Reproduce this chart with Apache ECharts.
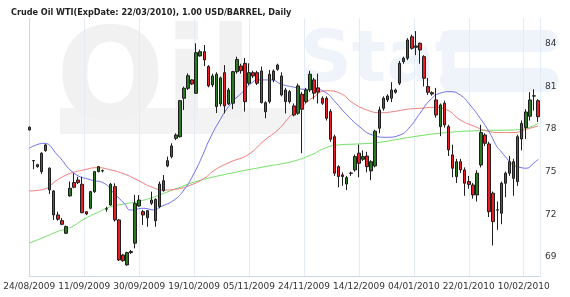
<!DOCTYPE html>
<html>
<head>
<meta charset="utf-8">
<script src="https://cdn.jsdelivr.net/npm/echarts@6/dist/echarts.min.js"></script>
<style>
html, body { margin: 0; padding: 0; background: #fff; }
#main { width: 570px; height: 297px; }
</style>
</head>
<body>
<div id="main"></div>
<script>
// 日期刻度标签（每 13.5 根K线一个）
var dateLabels = ['24/08/2009', '11/09/2009', '30/09/2009', '19/10/2009', '05/11/2009',
	'24/11/2009', '14/12/2009', '04/01/2010', '22/01/2010', '10/02/2010'];

// 开盘 / 收盘 / 最低 / 最高
var openP = [78.13, 75.78, 75.35, 75.00, 76.88, 75.24, 73.64, 71.95, 71.55, 70.66,
	73.29, 74.23, 74.41, 74.11, 72.18, 72.42, 73.59, 75.00, 75.05, 72.38,
	72.65, 73.94, 71.60, 69.13, 68.43, 69.37, 69.96, 72.58, 72.18, 71.75,
	73.00, 73.05, 72.53, 73.66, 75.40, 76.06, 77.35, 77.46, 80.17, 80.87,
	81.46, 80.52, 83.15, 83.45, 82.40, 81.11, 79.58, 79.77, 81.97, 79.77,
	79.82, 82.04, 82.44, 82.63, 81.23, 81.97, 81.97, 82.09, 79.86, 79.93,
	81.46, 82.51, 81.74, 80.75, 80.63, 79.63, 79.11, 80.45, 79.93, 80.75,
	81.46, 80.90, 80.17, 80.17, 79.23, 77.46, 75.35, 74.77, 74.13, 74.90,
	75.12, 76.30, 75.87, 76.10, 75.05, 75.40, 78.06, 79.46, 80.05, 80.17,
	80.75, 81.23, 82.75, 82.99, 84.50, 83.76, 84.04, 83.10, 80.99, 80.56,
	80.05, 78.17, 79.82, 78.17, 76.18, 74.65, 75.70, 75.12, 74.30, 74.06,
	73.36, 75.47, 77.58, 76.95, 73.48, 72.31, 72.07, 74.18, 74.89, 75.70,
	74.30, 77.30, 78.10, 78.90, 80.34, 80.00];
var closeP = [77.94, 75.76, 75.49, 76.30, 76.48, 73.71, 71.95, 71.65, 71.29, 71.13,
	73.83, 73.90, 74.23, 72.11, 72.02, 73.59, 75.00, 75.35, 75.07, 72.36,
	74.11, 71.60, 68.78, 68.73, 69.30, 69.30, 72.77, 73.00, 71.95, 72.25,
	72.77, 71.54, 74.13, 74.36, 75.77, 76.81, 77.58, 80.00, 80.87, 81.76,
	81.18, 83.38, 83.45, 82.87, 81.04, 81.74, 81.86, 81.60, 79.63, 80.75,
	82.04, 82.90, 82.11, 79.93, 81.97, 81.74, 81.23, 79.86, 79.22, 81.86,
	82.09, 82.21, 80.40, 79.93, 79.93, 78.99, 81.04, 79.39, 80.75, 81.86,
	80.52, 80.60, 79.82, 78.76, 77.28, 74.89, 74.65, 74.65, 74.58, 74.88,
	76.06, 75.59, 76.06, 75.35, 75.70, 77.85, 79.35, 80.17, 80.33, 80.75,
	80.59, 82.63, 82.99, 84.27, 83.69, 83.85, 83.57, 81.58, 80.59, 80.47,
	78.99, 79.70, 78.29, 76.53, 75.24, 75.70, 75.12, 74.18, 74.10, 73.36,
	74.89, 77.75, 77.00, 72.18, 71.48, 72.29, 74.18, 74.89, 75.70, 74.53,
	77.46, 78.40, 79.20, 80.05, 80.32, 78.87];
var lowP = [77.90, 75.17, 75.28, 74.84, 76.40, 73.43, 71.60, 71.55, 71.23, 70.60,
	73.24, 73.83, 74.13, 72.07, 71.94, 72.35, 73.50, 74.95, 74.95, 72.18,
	72.60, 71.48, 68.70, 68.65, 68.38, 69.20, 69.60, 72.53, 71.25, 71.12,
	72.65, 71.12, 72.42, 73.59, 75.31, 75.94, 77.22, 77.40, 79.34, 80.75,
	81.10, 80.47, 83.10, 82.44, 80.94, 80.95, 79.13, 79.60, 79.10, 79.70,
	79.40, 81.90, 81.90, 79.23, 81.10, 81.60, 81.10, 79.80, 78.76, 79.80,
	81.30, 82.10, 80.30, 79.10, 79.80, 78.90, 79.00, 76.30, 79.80, 80.60,
	80.10, 79.80, 79.70, 78.60, 77.10, 74.70, 73.90, 74.00, 73.70, 74.70,
	75.00, 74.60, 75.75, 74.95, 74.40, 75.30, 77.70, 79.30, 79.90, 79.90,
	80.50, 81.10, 82.60, 82.85, 83.60, 83.20, 82.60, 81.00, 80.40, 80.35,
	78.80, 77.50, 78.10, 76.10, 74.60, 74.20, 74.90, 73.30, 73.80, 73.10,
	72.90, 75.30, 76.80, 71.80, 69.80, 70.90, 71.30, 73.20, 74.70, 73.30,
	74.00, 76.50, 77.30, 78.60, 79.30, 78.50];
var highP = [78.17, 75.82, 75.55, 76.36, 76.95, 75.30, 73.70, 72.18, 71.73, 71.20,
	74.30, 74.89, 74.64, 74.64, 72.20, 73.65, 75.05, 75.40, 75.15, 72.53,
	74.20, 74.18, 71.65, 69.20, 69.35, 69.48, 73.36, 73.35, 72.30, 72.30,
	73.59, 73.12, 74.30, 74.76, 76.06, 77.00, 77.70, 80.05, 80.99, 81.92,
	81.50, 84.04, 83.60, 83.92, 82.50, 81.90, 82.00, 81.70, 82.50, 80.90,
	82.10, 83.10, 82.60, 83.00, 82.63, 82.10, 82.10, 82.40, 79.95, 82.16,
	82.20, 82.60, 82.00, 80.90, 80.75, 79.80, 81.20, 80.60, 80.90, 82.10,
	81.60, 81.90, 80.30, 80.30, 79.40, 77.60, 75.45, 74.95, 74.70, 75.00,
	76.20, 76.90, 76.50, 76.40, 75.80, 77.95, 79.58, 80.30, 80.45, 81.30,
	80.85, 82.80, 83.10, 84.40, 84.65, 84.90, 84.10, 83.20, 81.60, 80.65,
	80.90, 79.80, 80.00, 78.30, 76.90, 75.90, 75.90, 75.30, 74.70, 74.20,
	75.10, 78.30, 77.70, 77.10, 73.60, 72.90, 74.30, 75.00, 76.10, 75.90,
	77.60, 78.60, 79.40, 80.60, 80.80, 80.10];

// 均线 [K线序号, 价格]
var maBlue = [[0, 76.65], [3.6, 77.0], [6.9, 76.18], [11, 74.89], [15.1, 74.42], [18.4, 74.18],
	[20.8, 73.48], [23.3, 72.77], [24.9, 72.3], [28.2, 72.42], [30.6, 72.3], [32.3, 72.53],
	[35.6, 73.0], [38, 73.71], [40.5, 74.89], [43, 76.41], [44, 77.1], [46.4, 78.41],
	[49.6, 79.82], [52.1, 80.52], [54.6, 81.23], [56.2, 81.46], [59.5, 81.46], [62, 81.15],
	[65.2, 80.94], [67.7, 80.8], [70.2, 80.8], [72.7, 80.6], [75.2, 79.9], [77.7, 79.1],
	[81, 78.2], [84.3, 77.58], [87.8, 77.42], [91.1, 77.58], [93.6, 78.17], [96, 79.11],
	[98.5, 80.05], [100.9, 80.52], [103.4, 80.63], [105.9, 80.4], [108.3, 79.7], [110.8, 78.76],
	[113.2, 77.7], [114.9, 76.76], [115.7, 76.5], [117.3, 75.94], [118.9, 75.47], [120.6, 75.3],
	[122.2, 75.24], [123.9, 75.59], [125.1, 75.87]];
var maRed = [[0, 73.64], [3.6, 73.76], [6.9, 74.42], [10.2, 74.89], [13.4, 75.12], [16.7, 75.28],
	[20, 75.12], [23.3, 74.84], [26.5, 74.42], [29.8, 73.95], [33.1, 73.71], [36.4, 73.78],
	[39.7, 74.06], [43, 74.53], [45.6, 75.12], [49.6, 75.7], [53.7, 76.18], [57.9, 77.23],
	[61.1, 77.94], [64.4, 78.99], [66.5, 79.46], [69.8, 80.24], [73.1, 80.7], [76.4, 80.52],
	[79.6, 79.82], [82.9, 79.35], [86.2, 79.15], [89.5, 79.23], [92.7, 79.39], [96, 79.46],
	[99.3, 79.53], [102.6, 79.35], [105.9, 78.64], [109.1, 78.22], [112.4, 77.87], [115.7, 77.75],
	[119, 77.75], [122.2, 77.99], [125.1, 78.22]];
var maGreen = [[0, 69.96], [3.6, 70.38], [6.9, 70.78], [10.2, 71.08], [13.4, 71.65], [16.7, 72.11],
	[20, 72.53], [23.3, 72.72], [26.5, 72.89], [29.8, 73.13], [33.1, 73.48], [36.4, 73.83],
	[41.5, 74.35], [49.6, 74.89], [57.9, 75.35], [64.4, 75.7], [69.3, 76.18], [72.6, 76.65],
	[75.9, 76.88], [80.8, 76.95], [85.7, 77.05], [94.4, 77.46], [102.6, 77.75], [110.8, 77.89],
	[119, 77.94], [122.2, 78.06], [125.1, 78.41]];

var candles = [];
for (var i = 0; i < openP.length; i++) {
	candles.push([i, openP[i], closeP[i], lowP[i], highP[i]]);
}

var myChart = echarts.init(document.getElementById('main'), null, {renderer: 'canvas'});

var option = {
	animation: false,
	backgroundColor: '#fff',
	title: {
		text: 'Crude Oil WTI(ExpDate: 22/03/2010), 1.00 USD/BARREL, Daily',
		left: 6, top: 3,
		textStyle: {fontSize: 9, fontWeight: 'bold', color: '#222', fontFamily: 'DejaVu Sans Condensed'}
	},
	// 水印
	graphic: [
		{type: 'text', left: 56, top: 22, z: -10, silent: true,
			style: {text: 'Oil', fontSize: 128, fontWeight: 'bold', fontFamily: 'DejaVu Sans', fill: '#f1f1f1'}},
		{type: 'rect', shape: {x: 60, y: 108, width: 240, height: 26}, z: -11, silent: true,
			style: {fill: '#f3f3f3'}},
		{type: 'text', left: 300, top: 26, z: -10, silent: true,
			style: {text: 'Stat', fontSize: 72, fontWeight: 'bold', fontFamily: 'DejaVu Sans', fill: '#eff4fa'}},
		{type: 'rect', shape: {x: 440, y: 30, width: 118, height: 22, r: 11}, z: -10, silent: true,
			style: {fill: '#eff4fa'}},
		{type: 'rect', shape: {x: 440, y: 68, width: 118, height: 24, r: 12}, z: -10, silent: true,
			style: {fill: '#eff4fa'}}
	],
	grid: {left: 29.3, right: 30, top: 18.3, bottom: 20.3},
	xAxis: {
		type: 'value',
		min: 0, max: 125.5, interval: 13.5,
		axisLine: {show: true, lineStyle: {color: '#c9d9ea'}},
		axisTick: {show: false},
		splitLine: {show: true, lineStyle: {color: '#e3ecf6'}},
		axisLabel: {
			showMaxLabel: false,
			fontSize: 9, color: '#333', margin: 5, fontFamily: 'DejaVu Sans',
			formatter: function (v) {
				var k = Math.round(v / 13.5);
				return Math.abs(v - k * 13.5) < 0.01 ? (dateLabels[k] || '') : '';
			}
		}
	},
	yAxis: {
		type: 'value', position: 'right',
		min: 67.6, max: 85.8, interval: 0.2,
		axisLine: {show: true, lineStyle: {color: '#c9d9ea'}},
		axisTick: {show: false},
		splitLine: {show: false},
		axisLabel: {
			showMinLabel: false, showMaxLabel: false,
			fontSize: 9, color: '#333', margin: 5, fontFamily: 'DejaVu Sans',
			formatter: function (v) {
				var r = Math.round(v);
				return (Math.abs(v - r) < 0.01 && r % 3 === 0) ? String(r) : '';
			}
		}
	},
	series: [
		{name: 'MA-G', type: 'line', data: maGreen, smooth: true, showSymbol: false, z: 1,
			lineStyle: {width: 1, color: '#74e066'}},
		{name: 'MA-R', type: 'line', data: maRed, smooth: true, showSymbol: false, z: 1,
			lineStyle: {width: 1, color: '#f07a7a'}},
		{name: 'MA-B', type: 'line', data: maBlue, smooth: true, showSymbol: false, z: 1,
			lineStyle: {width: 1, color: '#6e6ef2'}},
		{
			name: 'WTI', type: 'candlestick', data: candles,
			encode: {x: 0, y: [1, 2, 3, 4]},
			barWidth: 3, clip: false, z: 2,
			itemStyle: {color: '#2b7a1f', color0: '#ec1c24', borderColor: '#1e1e1e', borderColor0: '#1e1e1e', borderWidth: 1}
		}
	]
};

myChart.setOption(option);
</script>
</body>
</html>
